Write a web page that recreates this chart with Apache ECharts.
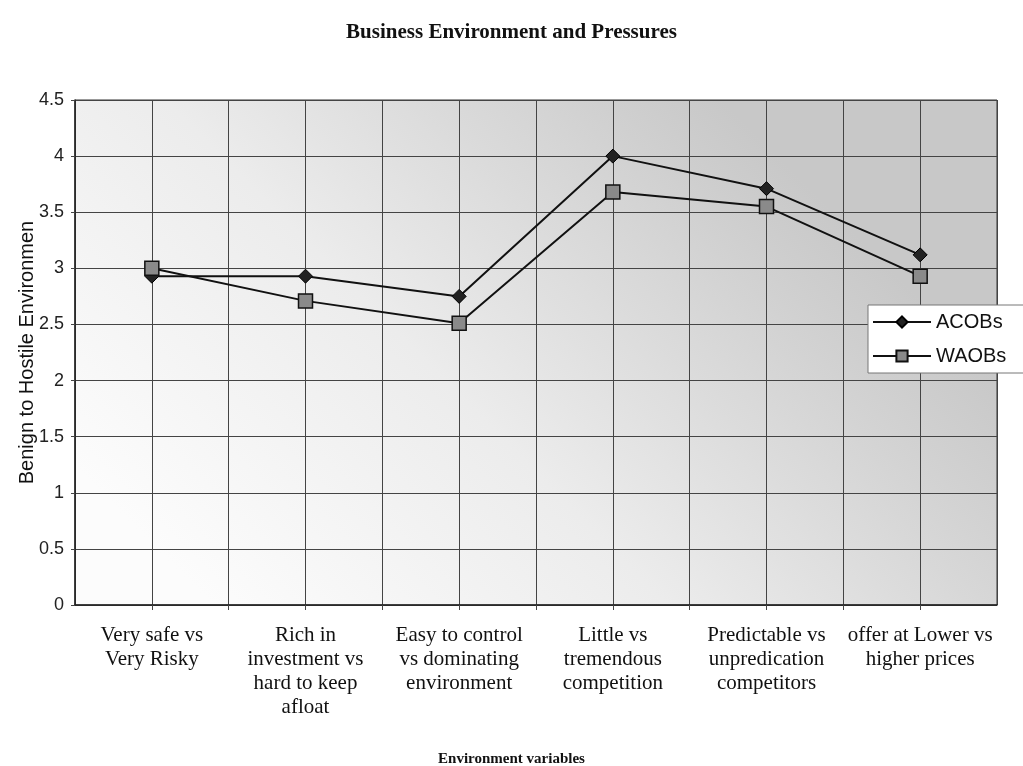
<!DOCTYPE html>
<html><head><meta charset="utf-8">
<script src="https://cdn.jsdelivr.net/npm/echarts@6/dist/echarts.min.js"></script>
<style>html,body{margin:0;padding:0;background:#fff}#c{width:1023px;height:766px}</style>
</head><body><div id="c"></div>
<script>
const categories = [
  "Very safe vs\nVery Risky",
  "Rich in\ninvestment vs\nhard to keep\nafloat",
  "Easy to control\nvs dominating\nenvironment",
  "Little vs\ntremendous\ncompetition",
  "Predictable vs\nunpredication\ncompetitors",
  "offer at Lower vs\nhigher prices"
];
const acobs = [2.93, 2.93, 2.75, 4.0, 3.71, 3.12];
const waobs = [3.0, 2.71, 2.51, 3.68, 3.55, 2.93];
const yTicks = [0, 0.5, 1, 1.5, 2, 2.5, 3, 3.5, 4, 4.5];

const chart = echarts.init(document.getElementById('c'));
const toPts = arr => arr.map((v, i) => [i, v]);
chart.setOption({
  animation: false,
  backgroundColor: '#fff',
  title: [
    {
      text: 'Business Environment and Pressures',
      left: 'center', top: 17,
      textStyle: {fontFamily: 'Liberation Serif', fontSize: 21, fontWeight: 'bold', color: '#111'}
    },
    {
      text: 'Environment variables',
      left: 'center', top: 747,
      textStyle: {fontFamily: 'Liberation Serif', fontSize: 15, fontWeight: 'bold', color: '#111'}
    }
  ],
  grid: {
    left: 75, right: 26, top: 100, bottom: 161, show: true,
    borderColor: '#333', borderWidth: 1,
    backgroundColor: new echarts.graphic.LinearGradient(0.15, 1, 0.7, 0, [
      {offset: 0, color: '#fcfcfc'},
      {offset: 0.45, color: '#ececec'},
      {offset: 0.75, color: '#d8d8d8'},
      {offset: 1, color: '#c8c8c8'}
    ])
  },
  legend: {
    orient: 'vertical', left: 868, top: 305,
    data: ['ACOBs', 'WAOBs'],
    itemWidth: 58, itemHeight: 14, itemGap: 14,
    padding: [7, 40, 7, 4],
    backgroundColor: '#fff', borderColor: '#777', borderWidth: 1,
    textStyle: {fontFamily: 'Liberation Sans', fontSize: 20, color: '#111'}
  },
  xAxis: {
    type: 'value', min: -0.5, max: 5.5, interval: 0.5,
    axisLine: {show: true, onZero: false, lineStyle: {color: '#222', width: 1.5}},
    axisTick: {show: true, length: 5, lineStyle: {color: '#444'}},
    splitLine: {show: true, lineStyle: {color: '#444', width: 1}},
    axisLabel: {
      margin: 18, lineHeight: 24,
      fontFamily: 'Liberation Serif', fontSize: 21, color: '#111',
      showMinLabel: false, showMaxLabel: false,
      formatter: v => (Number.isInteger(v) && v >= 0 && v < categories.length) ? categories[v] : ''
    }
  },
  yAxis: {
    type: 'value', min: 0, max: 4.5, interval: 0.5,
    name: 'Benign to Hostile Environmen', nameLocation: 'middle', nameGap: 38,
    nameMoveOverlap: false,
    nameTextStyle: {fontFamily: 'Liberation Sans', fontSize: 20, color: '#111'},
    axisLine: {show: true, onZero: false, lineStyle: {color: '#222', width: 1.5}},
    axisTick: {show: true, length: 4, lineStyle: {color: '#444'}},
    splitLine: {show: true, lineStyle: {color: '#444', width: 1}},
    axisLabel: {
      margin: 11, fontFamily: 'Liberation Sans', fontSize: 18, color: '#222',
      formatter: v => yTicks.includes(v) ? String(v) : ''
    }
  },
  series: [
    {
      name: 'ACOBs', type: 'line', data: toPts(acobs),
      symbol: 'diamond', symbolSize: 14,
      lineStyle: {color: '#111', width: 2},
      itemStyle: {color: '#222', borderColor: '#000', borderWidth: 1}
    },
    {
      name: 'WAOBs', type: 'line', data: toPts(waobs),
      symbol: 'rect', symbolSize: 14,
      lineStyle: {color: '#111', width: 2},
      itemStyle: {color: '#8a8a8a', borderColor: '#111', borderWidth: 1.5}
    }
  ]
});
</script></body></html>
